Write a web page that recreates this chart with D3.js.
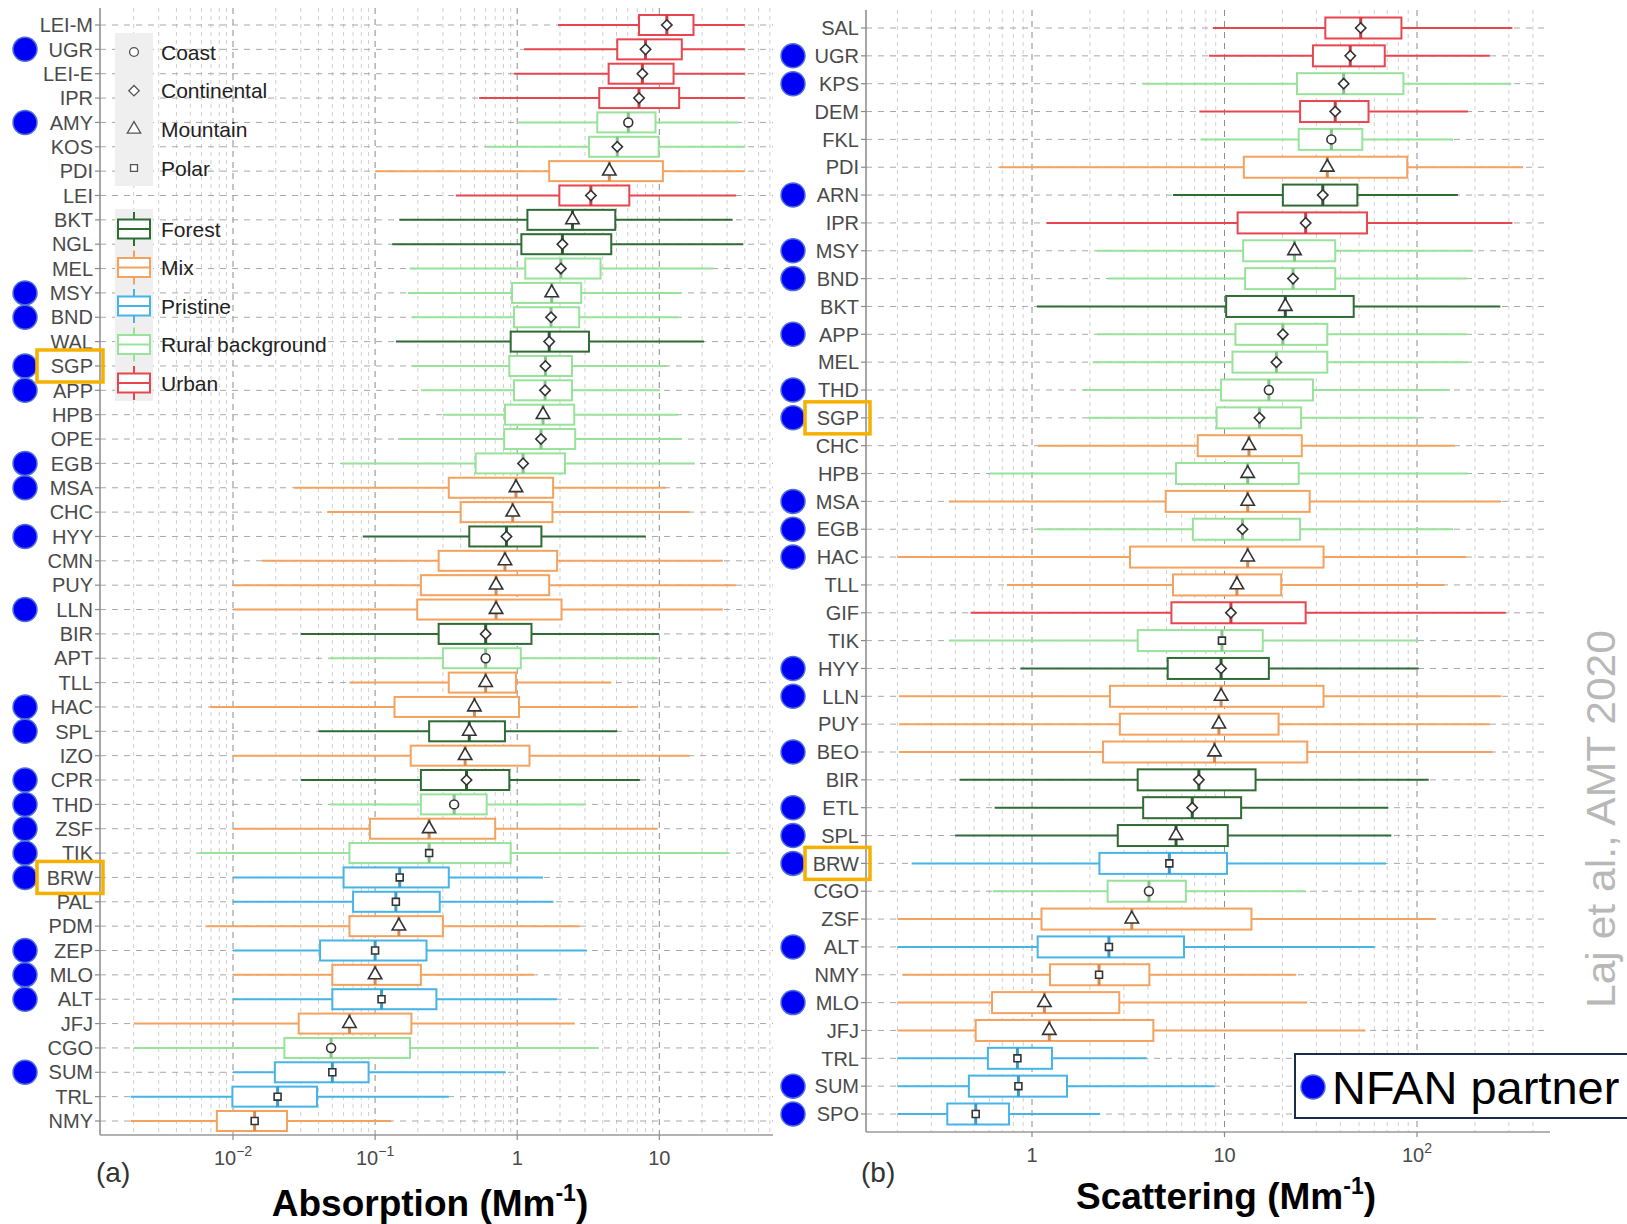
<!DOCTYPE html>
<html>
<head>
<meta charset="utf-8">
<script src="https://cdn.jsdelivr.net/npm/d3@7"></script>
<style>
  body { margin: 0; background: #fff; }
  svg { display: block; font-family: "Liberation Sans", Arial, sans-serif; }
</style>
</head>
<body>
<svg id="chart" width="1627" height="1224"></svg>
<script>
// ---- categories / legend ----
const categories = ["Forest", "Mix", "Pristine", "Rural background", "Urban"];
const categoryColors = ["#2f6b34", "#f4a25e", "#46b4e6", "#98e29a", "#e8464f"];
const siteTypes = ["Coast", "Continental", "Mountain", "Polar"];

// ---- panel (a): absorption, Mm-1 ----
const absStations = ["LEI-M","UGR","LEI-E","IPR","AMY","KOS","PDI","LEI","BKT","NGL","MEL","MSY","BND","WAL","SGP","APP","HPB","OPE","EGB","MSA","CHC","HYY","CMN","PUY","LLN","BIR","APT","TLL","HAC","SPL","IZO","CPR","THD","ZSF","TIK","BRW","PAL","PDM","ZEP","MLO","ALT","JFJ","CGO","SUM","TRL","NMY"];
const absCategory = ["Urban","Urban","Urban","Urban","Rural background","Rural background","Mix","Urban","Forest","Forest","Rural background","Rural background","Rural background","Forest","Rural background","Rural background","Rural background","Rural background","Rural background","Mix","Mix","Forest","Mix","Mix","Mix","Forest","Rural background","Mix","Mix","Forest","Mix","Forest","Rural background","Mix","Rural background","Pristine","Pristine","Mix","Pristine","Mix","Pristine","Mix","Rural background","Pristine","Pristine","Mix"];
const absType = ["Continental","Continental","Continental","Continental","Coast","Continental","Mountain","Continental","Mountain","Continental","Continental","Mountain","Continental","Continental","Continental","Continental","Mountain","Continental","Continental","Mountain","Mountain","Continental","Mountain","Mountain","Mountain","Continental","Coast","Mountain","Mountain","Mountain","Mountain","Continental","Coast","Mountain","Polar","Polar","Polar","Mountain","Polar","Mountain","Polar","Mountain","Coast","Polar","Polar","Polar"];
const absLow  = [1.94,1.12,0.95,0.54,1.0,0.61,0.1,0.37,0.148,0.132,0.175,0.17,0.18,0.14,0.18,0.21,0.30,0.145,0.058,0.027,0.046,0.082,0.016,0.01,0.01,0.030,0.048,0.066,0.0069,0.040,0.01,0.030,0.048,0.01,0.0058,0.01,0.01,0.0064,0.01,0.01,0.01,0.002,0.002,0.01,0.0019,0.0019];
const absQ1   = [7.2,5.06,4.4,3.78,3.66,3.2,1.68,1.98,1.18,1.07,1.14,0.92,0.95,0.90,0.88,0.95,0.82,0.81,0.51,0.33,0.40,0.46,0.28,0.21,0.198,0.28,0.30,0.33,0.137,0.24,0.178,0.21,0.21,0.092,0.066,0.060,0.070,0.066,0.041,0.050,0.050,0.029,0.023,0.0197,0.0099,0.0077];
const absMed  = [11.3,8.0,7.6,7.2,6.05,5.06,4.45,3.3,2.45,2.08,2.03,1.75,1.73,1.68,1.58,1.57,1.52,1.47,1.10,0.98,0.93,0.84,0.82,0.71,0.71,0.60,0.60,0.60,0.50,0.46,0.43,0.44,0.36,0.24,0.24,0.149,0.14,0.147,0.1,0.1,0.111,0.066,0.049,0.050,0.0206,0.0142];
const absQ3   = [17.4,14.4,12.6,13.8,9.4,9.9,10.6,6.15,4.9,4.59,3.86,2.82,2.73,3.2,2.43,2.43,2.52,2.56,2.17,1.79,1.77,1.48,1.91,1.68,2.05,1.26,1.06,0.98,1.03,0.82,1.22,0.88,0.61,0.70,0.90,0.33,0.285,0.30,0.23,0.21,0.27,0.18,0.176,0.090,0.039,0.024];
const absHigh = [40,40,40,40,36,40,40,34.7,32.8,39,24,14.4,13.6,20.6,11.3,10.1,13.6,14.4,17.8,11.1,16.4,8.05,28,34.7,28,10,9.6,4.6,7.1,5.06,16.3,7.3,3.0,9.6,30.6,1.52,1.8,2.76,3.1,1.31,1.9,2.54,3.76,0.83,0.33,0.13];
const absNfan = ["UGR","AMY","MSY","BND","SGP","APP","EGB","MSA","HYY","LLN","HAC","SPL","CPR","THD","ZSF","TIK","BRW","ZEP","MLO","ALT","SUM"];
const absTicks = [0.01, 0.1, 1, 10];
const absTickLabels = [["10","\u22122"],["10","\u22121"],["1",""],["10",""]];

// ---- panel (b): scattering, Mm-1 ----
const scatStations = ["SAL","UGR","KPS","DEM","FKL","PDI","ARN","IPR","MSY","BND","BKT","APP","MEL","THD","SGP","CHC","HPB","MSA","EGB","HAC","TLL","GIF","TIK","HYY","LLN","PUY","BEO","BIR","ETL","SPL","BRW","CGO","ZSF","ALT","NMY","MLO","JFJ","TRL","SUM","SPO"];
const scatCategory = ["Urban","Urban","Rural background","Urban","Rural background","Mix","Forest","Urban","Rural background","Rural background","Forest","Rural background","Rural background","Rural background","Rural background","Mix","Rural background","Mix","Rural background","Mix","Mix","Urban","Rural background","Forest","Mix","Mix","Mix","Forest","Forest","Forest","Pristine","Rural background","Mix","Pristine","Mix","Mix","Mix","Pristine","Pristine","Pristine"];
const scatType = ["Continental","Continental","Continental","Continental","Coast","Mountain","Continental","Continental","Mountain","Continental","Mountain","Continental","Continental","Coast","Continental","Mountain","Mountain","Mountain","Continental","Mountain","Mountain","Continental","Polar","Continental","Mountain","Mountain","Mountain","Continental","Continental","Mountain","Polar","Coast","Mountain","Polar","Polar","Mountain","Mountain","Polar","Polar","Polar"];
const scatLow  = [8.7,8.3,3.76,7.4,7.5,0.68,5.4,1.19,2.17,2.49,1.06,2.17,2.07,1.84,1.95,1.07,0.6,0.37,1.06,0.20,0.74,0.48,0.37,0.87,0.204,0.204,0.204,0.42,0.64,0.40,0.237,0.625,0.20,0.20,0.213,0.20,0.20,0.2,0.2,0.2];
const scatQ1   = [33.4,28.8,23.8,24.7,24.3,12.6,20.1,11.7,12.5,12.8,10.2,11.4,11.0,9.6,9.1,7.26,5.6,4.95,6.85,3.23,5.4,5.3,3.54,5.07,2.54,2.86,2.34,3.54,3.78,2.79,2.24,2.47,1.12,1.07,1.24,0.62,0.51,0.59,0.47,0.363];
const scatMed  = [51,45,41.6,37.6,35.9,34.2,32.4,26.4,23.1,22.7,20.7,20.1,18.6,17.0,15.2,13.4,13.2,13.2,12.4,13.2,11.6,10.8,9.7,9.6,9.6,9.35,8.87,7.36,6.8,5.6,5.17,4.05,3.3,2.51,2.23,1.16,1.23,0.84,0.85,0.51];
const scatQ3   = [83,68,85,56,52,89,49,55,37.6,37.6,46.9,34.2,34.2,28.8,25,25.2,24.3,27.7,24.7,32.7,19.7,26.4,15.8,17.0,32.7,19.1,26.9,14.5,12.2,10.4,10.3,6.3,13.8,6.16,4.07,2.84,4.27,1.27,1.52,0.76];
const scatHigh = [313,239,309,184,154,356,163,313,195,182,271,182,184,148,100,157,184,274,154,180,139,289,100,102,274,239,247,115,71,73.6,69,26.6,125,60,23.6,26.9,54,3.94,8.9,2.26];
const scatNfan = ["UGR","KPS","ARN","MSY","BND","APP","THD","SGP","MSA","EGB","HAC","HYY","LLN","BEO","ETL","SPL","BRW","ALT","MLO","SUM","SPO"];
const scatTicks = [1, 10, 100];
const scatTickLabels = [["1",""],["10",""],["10","2"]];

const highlighted = ["SGP", "BRW"];

const svg = d3.select("#chart");
const colorOf = d3.scaleOrdinal().domain(categories).range(categoryColors);

function markerPath(type) {
  if (type === "Coast") return d3.symbol(d3.symbolCircle, 62)();
  if (type === "Continental") return d3.symbol(d3.symbolSquare, 54)();
  if (type === "Mountain") return d3.symbol(d3.symbolTriangle, 78)();
  return d3.symbol(d3.symbolSquare, 48)();
}
function markerRotate(type) {
  return type === "Continental" ? 45 : 0;
}

function drawPanel(p) {
  const g = svg.append("g");
  const x = d3.scaleLog().domain(p.xDomain).range(p.xRange);
  const y = d3.scalePoint().domain(p.stations).range(p.yRange);

  // vertical grid (minor + major)
  const e0 = Math.floor(Math.log10(x.invert(p.left)));
  const e1 = Math.ceil(Math.log10(x.invert(p.right)));
  const minor = [], major = [];
  for (let e = e0; e <= e1; e++) {
    for (let k = 1; k <= 9; k++) {
      const v = k * Math.pow(10, e);
      if (x(v) > p.left + 2 && x(v) < p.right) (k === 1 ? major : minor).push(v);
    }
  }
  g.selectAll(".minor").data(minor).enter().append("line")
    .attr("x1", d => x(d)).attr("x2", d => x(d))
    .attr("y1", p.top).attr("y2", p.bottom)
    .attr("stroke", "#cfcfcf").attr("stroke-width", 1).attr("stroke-dasharray", "4,4");
  g.selectAll(".major").data(major).enter().append("line")
    .attr("x1", d => x(d)).attr("x2", d => x(d))
    .attr("y1", p.top).attr("y2", p.bottom)
    .attr("stroke", "#8c8c8c").attr("stroke-width", 1).attr("stroke-dasharray", "6,5");

  // horizontal row grid
  g.selectAll(".hgrid").data(p.stations).enter().append("line")
    .attr("x1", p.left).attr("x2", p.right)
    .attr("y1", d => y(d)).attr("y2", d => y(d))
    .attr("stroke", "#a8a8a8").attr("stroke-width", 1).attr("stroke-dasharray", "6,6");

  // axes lines
  g.append("line").attr("x1", p.left).attr("x2", p.left).attr("y1", p.top).attr("y2", p.bottom)
    .attr("stroke", "#8a8a8a").attr("stroke-width", 1.5);
  g.append("line").attr("x1", p.left).attr("x2", p.right).attr("y1", p.bottom).attr("y2", p.bottom)
    .attr("stroke", "#9a9a9a").attr("stroke-width", 1.5);

  // y ticks and labels
  g.selectAll(".ytick").data(p.stations).enter().append("line")
    .attr("x1", p.left - 5).attr("x2", p.left).attr("y1", d => y(d)).attr("y2", d => y(d))
    .attr("stroke", "#8a8a8a").attr("stroke-width", 1.2);
  g.selectAll(".ylab").data(p.stations).enter().append("text")
    .attr("x", p.left - 7).attr("y", d => y(d)).attr("dy", "0.36em")
    .attr("text-anchor", "end").attr("font-size", 20).attr("fill", "#4a4a4a")
    .text(d => d);

  // x ticks and labels
  g.selectAll(".xtick").data(p.ticks).enter().append("line")
    .attr("x1", d => x(d)).attr("x2", d => x(d)).attr("y1", p.bottom).attr("y2", p.bottom + 5)
    .attr("stroke", "#8a8a8a").attr("stroke-width", 1.2);
  const xl = g.selectAll(".xlab").data(p.ticks).enter().append("text")
    .attr("x", d => x(d)).attr("y", p.bottom + 30)
    .attr("text-anchor", "middle").attr("font-size", 20).attr("fill", "#4a4a4a");
  xl.append("tspan").text((d, i) => p.tickLabels[i][0]);
  xl.append("tspan").attr("dy", -9).attr("font-size", 14).text((d, i) => p.tickLabels[i][1]);

  // boxes
  const rows = p.stations.map((s, i) => ({
    s, cat: p.category[i], type: p.type[i],
    lo: p.low[i], q1: p.q1[i], med: p.med[i], q3: p.q3[i], hi: p.high[i]
  }));
  const bh = p.boxH;
  const rg = g.selectAll(".row").data(rows).enter().append("g");
  rg.append("line").attr("x1", d => x(d.lo)).attr("x2", d => x(d.q1))
    .attr("y1", d => y(d.s)).attr("y2", d => y(d.s))
    .attr("stroke", d => colorOf(d.cat)).attr("stroke-width", 2);
  rg.append("line").attr("x1", d => x(d.q3)).attr("x2", d => x(d.hi))
    .attr("y1", d => y(d.s)).attr("y2", d => y(d.s))
    .attr("stroke", d => colorOf(d.cat)).attr("stroke-width", 2);
  rg.append("rect").attr("x", d => x(d.q1)).attr("width", d => x(d.q3) - x(d.q1))
    .attr("y", d => y(d.s) - bh / 2).attr("height", bh)
    .attr("fill", "#fff").attr("stroke", d => colorOf(d.cat)).attr("stroke-width", 2);
  rg.append("line").attr("x1", d => x(d.med)).attr("x2", d => x(d.med))
    .attr("y1", d => y(d.s) - bh / 2).attr("y2", d => y(d.s) + bh / 2)
    .attr("stroke", d => d3.color(colorOf(d.cat)).darker(0.4)).attr("stroke-width", 3);
  rg.append("path").attr("d", d => markerPath(d.type))
    .attr("transform", d => `translate(${x(d.med)},${y(d.s)}) rotate(${markerRotate(d.type)})`)
    .attr("fill", "#fff").attr("stroke", "#333").attr("stroke-width", 1.6);

  // NFAN dots
  g.selectAll(".nfan").data(p.nfan).enter().append("circle")
    .attr("cx", p.dotX).attr("cy", d => y(d)).attr("r", 12)
    .attr("fill", "#0000f5").attr("stroke", "#4d6fd6").attr("stroke-width", 1.5);

  // highlight boxes
  g.selectAll(".hl").data(highlighted).enter().append("rect")
    .attr("x", p.hlX).attr("width", p.hlW)
    .attr("y", d => y(d) - 16).attr("height", 32)
    .attr("fill", "none").attr("stroke", "#f6b100").attr("stroke-width", 3.5);

  // panel letter and axis title
  g.append("text").attr("x", p.letterX).attr("y", 1182).attr("font-size", 28).attr("fill", "#333")
    .text(p.letter);
  const t = g.append("text").attr("x", p.titleX).attr("y", p.titleY)
    .attr("text-anchor", "middle").attr("font-size", 37).attr("font-weight", "bold").attr("fill", "#000");
  t.append("tspan").text(p.title + " (Mm");
  t.append("tspan").attr("dy", -15).attr("font-size", 23).text("-1");
  t.append("tspan").attr("dy", 15).text(")");
  return { x, y };
}

drawPanel({
  stations: absStations, category: absCategory, type: absType,
  low: absLow, q1: absQ1, med: absMed, q3: absQ3, high: absHigh, nfan: absNfan,
  ticks: absTicks, tickLabels: absTickLabels,
  xDomain: [0.01, 10], xRange: [233, 659.3], yRange: [25, 1121],
  left: 100, right: 773, top: 8, bottom: 1135, boxH: 20,
  dotX: 25, hlX: 37, hlW: 66, letter: "(a)", letterX: 96,
  title: "Absorption", titleX: 430, titleY: 1216
});

drawPanel({
  stations: scatStations, category: scatCategory, type: scatType,
  low: scatLow, q1: scatQ1, med: scatMed, q3: scatQ3, high: scatHigh, nfan: scatNfan,
  ticks: scatTicks, tickLabels: scatTickLabels,
  xDomain: [1, 100], xRange: [1032, 1417], yRange: [28, 1114],
  left: 866, right: 1550, top: 10, bottom: 1132, boxH: 21,
  dotX: 793, hlX: 805, hlW: 65, letter: "(b)", letterX: 861,
  title: "Scattering", titleX: 1226, titleY: 1209
});

// ---- legend in panel (a) ----
const leg = svg.append("g");
leg.append("rect").attr("x", 115).attr("y", 33).attr("width", 38).attr("height", 153).attr("fill", "#efefef");
leg.append("rect").attr("x", 115).attr("y", 209).attr("width", 38).attr("height", 192).attr("fill", "#efefef");
const typeY = d3.scalePoint().domain(siteTypes).range([52, 168]);
leg.selectAll(".tk").data(siteTypes).enter().append("path")
  .attr("d", d => markerPath(d))
  .attr("transform", d => `translate(134,${typeY(d)}) rotate(${markerRotate(d)})`)
  .attr("fill", "#fff").attr("stroke", "#555").attr("stroke-width", 1.3);
leg.selectAll(".tt").data(siteTypes).enter().append("text")
  .attr("x", 161).attr("y", d => typeY(d)).attr("dy", "0.36em")
  .attr("font-size", 21).attr("fill", "#222").text(d => d);

const catY = d3.scalePoint().domain(categories).range([229, 383]);
const ck = leg.selectAll(".ck").data(categories).enter().append("g")
  .attr("transform", d => `translate(134,${catY(d)})`);
ck.append("line").attr("x1", 0).attr("x2", 0).attr("y1", -17).attr("y2", 17)
  .attr("stroke", d => colorOf(d)).attr("stroke-width", 2);
ck.append("rect").attr("x", -16).attr("y", -9.5).attr("width", 32).attr("height", 19)
  .attr("fill", "#fff").attr("stroke", d => colorOf(d)).attr("stroke-width", 2);
ck.append("line").attr("x1", -16).attr("x2", 16).attr("y1", 0).attr("y2", 0)
  .attr("stroke", d => colorOf(d)).attr("stroke-width", 2);
leg.selectAll(".ct").data(categories).enter().append("text")
  .attr("x", 161).attr("y", d => catY(d)).attr("dy", "0.36em")
  .attr("font-size", 21).attr("fill", "#222").text(d => d);

// ---- NFAN partner box ----
const nf = svg.append("g");
nf.append("rect").attr("x", 1295).attr("y", 1054).attr("width", 360).attr("height", 64)
  .attr("fill", "#fff").attr("stroke", "#1c2b4c").attr("stroke-width", 2);
nf.append("circle").attr("cx", 1313).attr("cy", 1087).attr("r", 12)
  .attr("fill", "#0000f5").attr("stroke", "#4d6fd6").attr("stroke-width", 1.5);
nf.append("text").attr("x", 1332).attr("y", 1104).attr("font-size", 47).attr("fill", "#000")
  .text("NFAN partner");

// ---- citation ----
svg.append("text")
  .attr("transform", "translate(1615,1008) rotate(-90)")
  .attr("font-size", 40).attr("fill", "#b8b8b8")
  .attr("textLength", 378).attr("lengthAdjust", "spacingAndGlyphs")
  .text("Laj et al., AMT 2020");
</script>
</body>
</html>
